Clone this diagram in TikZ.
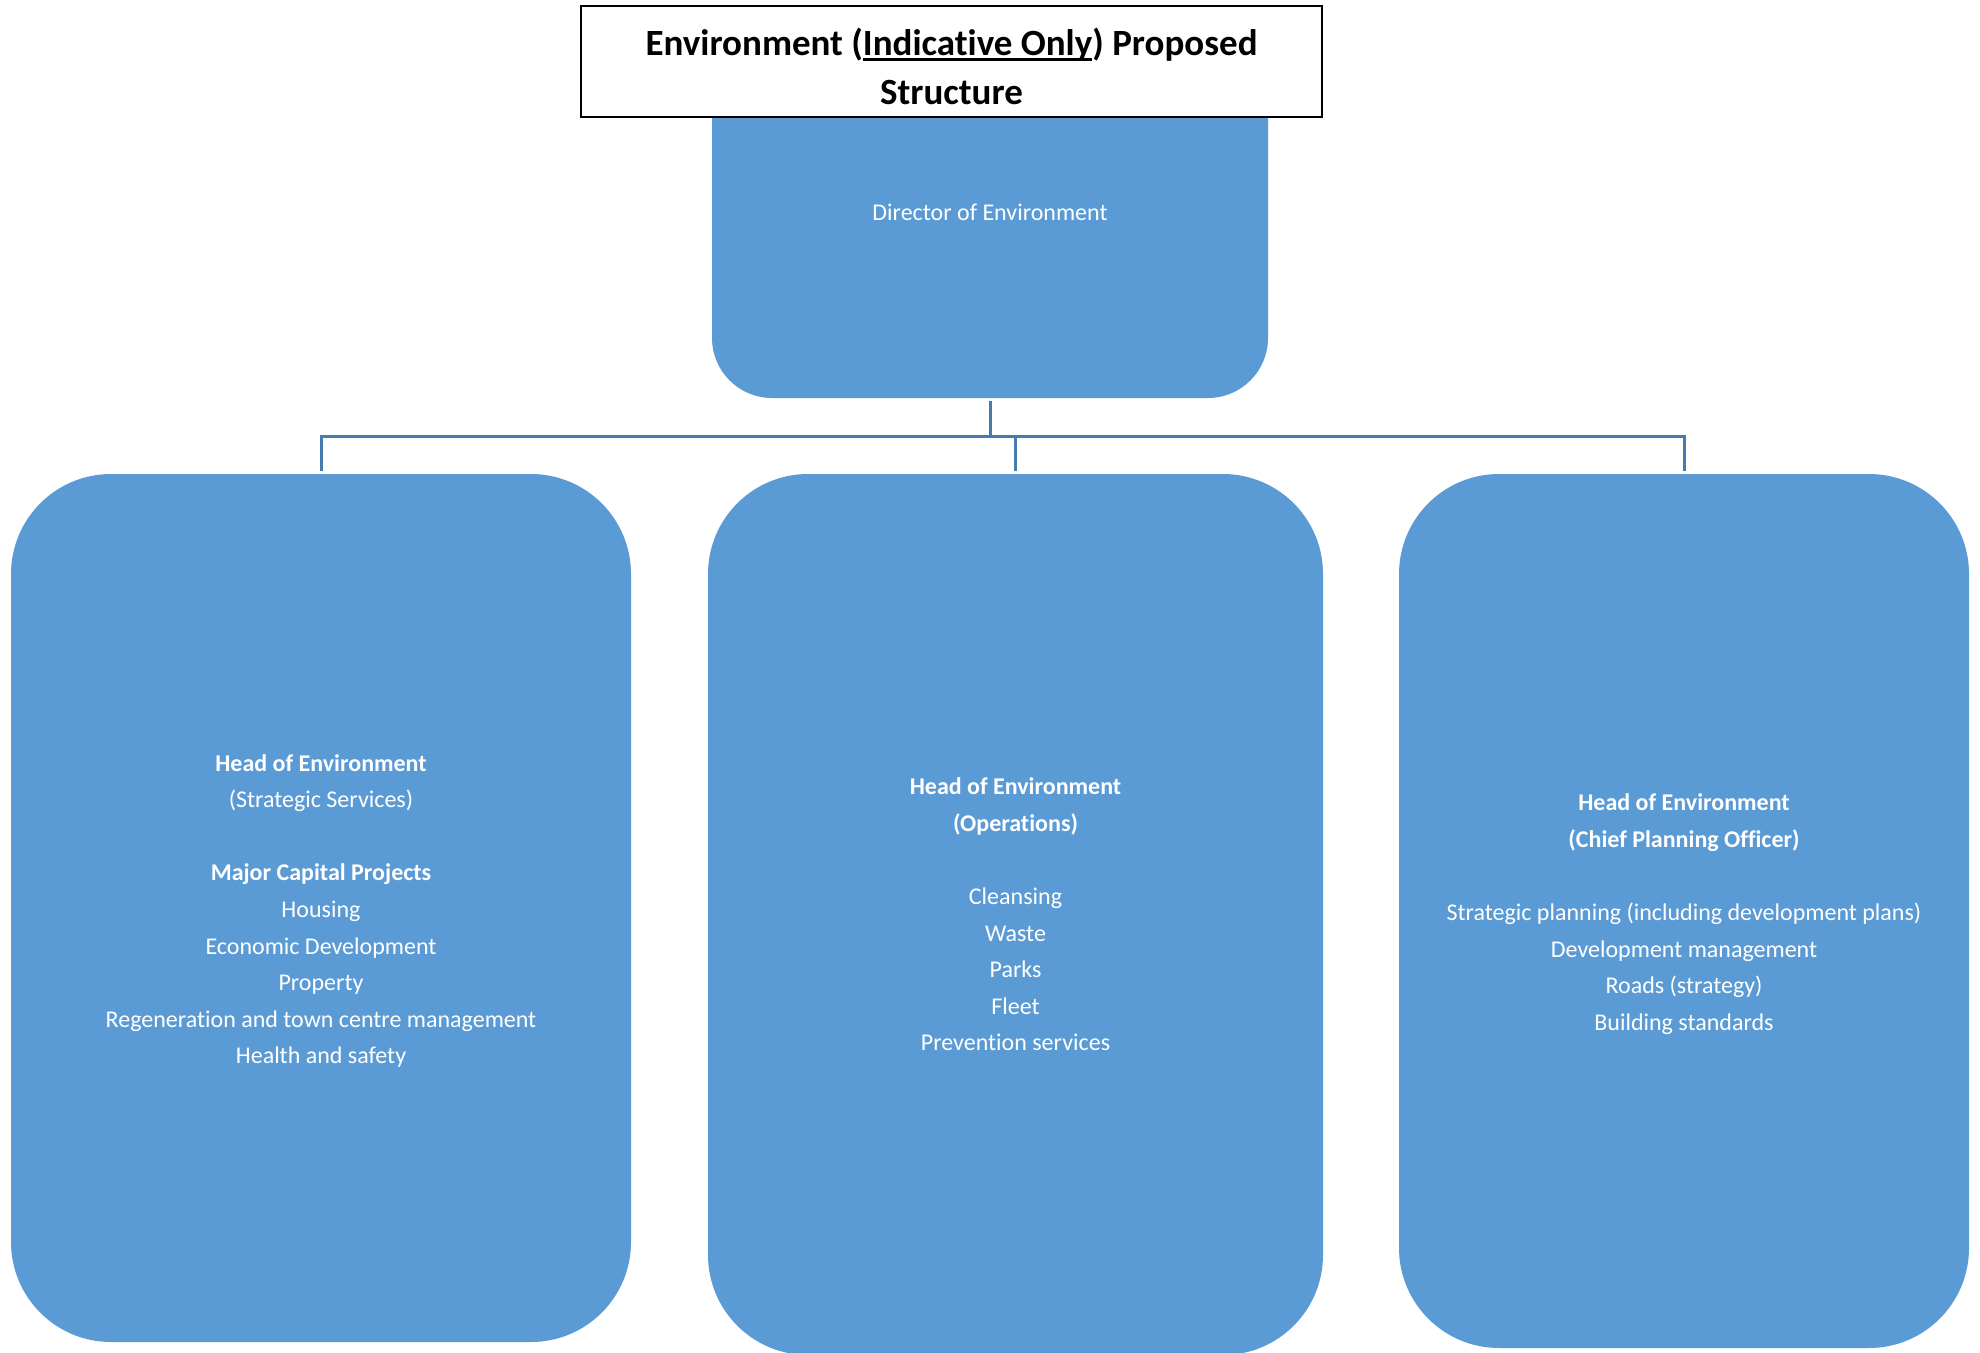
\documentclass[tikz,border=0pt]{standalone}
\usepackage{fontspec}
\setmainfont[RawFeature={-liga;-clig;-dlig;-calt}]{Carlito}
\definecolor{boxblue}{RGB}{91,155,213}
\definecolor{lineblue}{RGB}{71,122,176}
\newcommand{\myul}[1]{\setbox0\hbox{#1}\rlap{\rule[-5pt]{\wd0}{2.5pt}}\box0}
\tikzset{
  unitbox/.style={fill=boxblue, draw=none, inner sep=0pt, outer sep=0pt, rounded corners=#1,
    text=white, align=center, font=\fontsize{24}{36.6}\selectfont},
  conn/.style={draw=lineblue, line width=3pt},
  titlebox/.style={draw=black, fill=white, line width=2.5pt, inner sep=0pt, outer sep=0pt},
  titletext/.style={inner sep=0pt, align=center, font=\fontsize{37}{49}\selectfont\bfseries}
}
\begin{document}
\begin{tikzpicture}[x=1pt,y=-1pt]
\useasboundingbox (0,0) rectangle (1980,1352);
\clip (0,0) rectangle (1980,1352);
\node[unitbox=60pt, minimum width=556pt, minimum height=372pt] (dir) at (990,212) {Director of Environment};
\node[titlebox, minimum width=741pt, minimum height=111pt] (title) at (951.5,61.5) {};
\node[titletext] (titletxt) at (951.5,66.5) {Environment (\myul{Indicative Only}) Proposed\\Structure};
\node[unitbox=100pt, minimum width=620pt, minimum height=868pt] (left) at (321,908)
  {\rule{0pt}{23pt}\textbf{Head of Environment}\\(Strategic Services)\\[36.6pt]\textbf{Major Capital Projects}\\Housing\\Economic Development\\Property\\Regeneration and town centre management\\Health and safety};
\node[unitbox=100pt, minimum width=615pt, minimum height=881pt] (mid) at (1015.5,914.5)
  {\textbf{Head of Environment}\\\textbf{(Operations)}\\[36.6pt]Cleansing\\Waste\\Parks\\Fleet\\Prevention services};
\node[unitbox=100pt, minimum width=570pt, minimum height=874pt] (right) at (1684,911)
  {\rule{0pt}{23pt}\textbf{Head of Environment}\\\textbf{(Chief Planning Officer)}\\[36.6pt]Strategic planning (including development plans)\\Development management\\Roads (strategy)\\Building standards};
\coordinate (j) at (990,436);
\draw[conn, shorten <=3pt] (dir.south) -- (j);
\draw[conn, shorten >=3pt] (j) -| (left.north);
\draw[conn, shorten >=3pt] (j) -| (mid.north);
\draw[conn, shorten >=3pt] (j) -| (right.north);
\end{tikzpicture}
\end{document}
